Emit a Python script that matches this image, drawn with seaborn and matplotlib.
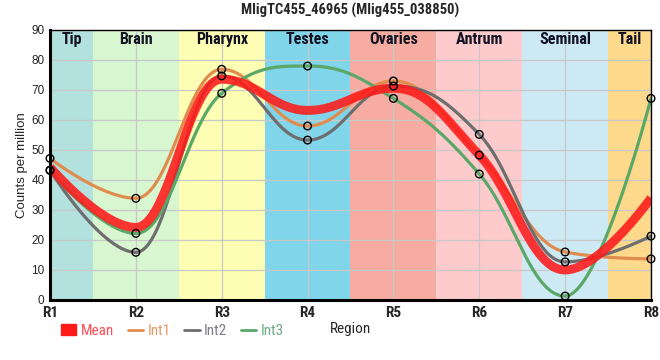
import numpy as np
import pandas as pd
import matplotlib
matplotlib.use("Agg")
import matplotlib.pyplot as plt
from matplotlib.patches import Patch
from matplotlib.lines import Line2D
import seaborn as sns

# ---- data ----
title = "MligTC455_46965 (Mlig455_038850)"
regions = ["R1", "R2", "R3", "R4", "R5", "R6", "R7", "R8"]
region_names = ["Tip", "Brain", "Pharynx", "Testes", "Ovaries", "Antrum", "Seminal", "Tail"]
region_colors = ["#b3e1de", "#d8f6cf", "#fdfdb4", "#80d5eb", "#f6aca0",
                 "#fdcbcc", "#cdeaf4", "#fdd98b"]

mean = [44.3, 24.2, 73.6, 63.2, 70.6, 48.3, 10.0, 34.0]
int1 = [47.2, 33.9, 76.9, 58.0, 73.0, 48.3, 16.0, 13.7]
int2 = [43.3, 15.9, 74.7, 53.3, 71.3, 55.2, 12.7, 21.3]
int3 = [43.2, 22.2, 68.9, 78.0, 67.2, 42.0, 1.3, 67.2]

series_names = ["Int1", "Int2", "Int3"]
series_colors = {"Mean": "#ff1a1a", "Int1": "#e08c4f", "Int2": "#6e6e6e", "Int3": "#5aa768"}
text_colors = {"Mean": "#ff4d55", "Int1": "#e69a66", "Int2": "#7a7a8a", "Int3": "#6aaa80"}

NARROW = ["Roboto Condensed", "Liberation Sans", "DejaVu Sans"]
REG = ["Liberation Sans", "DejaVu Sans"]


def spline_path(ys, n=50):
    """Smooth curve through the points, spline with clamped control points
    (no overshoot past neighbouring values)."""
    ys = np.asarray(ys, dtype=float)
    xs = np.arange(len(ys), dtype=float)
    k = len(ys)
    left, right = [None] * k, [None] * k
    for i in range(1, k - 1):
        x0, y0 = xs[i - 1], ys[i - 1]
        x, y = xs[i], ys[i]
        x1, y1 = xs[i + 1], ys[i + 1]
        lcx, lcy = (1.5 * x + x0) / 2.5, (1.5 * y + y0) / 2.5
        rcx, rcy = (1.5 * x + x1) / 2.5, (1.5 * y + y1) / 2.5
        corr = (rcy - lcy) * (rcx - x) / (rcx - lcx) + y - rcy
        lcy += corr
        rcy += corr
        if lcy > y0 and lcy > y:
            lcy = max(y0, y); rcy = 2 * y - lcy
        elif lcy < y0 and lcy < y:
            lcy = min(y0, y); rcy = 2 * y - lcy
        if rcy > y1 and rcy > y:
            rcy = max(y1, y); lcy = 2 * y - rcy
        elif rcy < y1 and rcy < y:
            rcy = min(y1, y); lcy = 2 * y - rcy
        left[i] = (lcx, lcy)
        right[i] = (rcx, rcy)
    t = np.linspace(0, 1, n)
    px, py = [], []
    for i in range(k - 1):
        p0 = (xs[i], ys[i])
        p3 = (xs[i + 1], ys[i + 1])
        p1 = right[i] if right[i] is not None else p0
        p2 = left[i + 1] if left[i + 1] is not None else p3
        b = [(1 - t) ** 3, 3 * (1 - t) ** 2 * t, 3 * (1 - t) * t ** 2, t ** 3]
        px.append(b[0] * p0[0] + b[1] * p1[0] + b[2] * p2[0] + b[3] * p3[0])
        py.append(b[0] * p0[1] + b[1] * p1[1] + b[2] * p2[1] + b[3] * p3[1])
    return np.concatenate(px), np.concatenate(py)


sns.set_style("white")
plt.rcParams["font.family"] = REG

fig = plt.figure(figsize=(6.6, 3.6), dpi=100)
ax = fig.add_axes([50 / 660, 60 / 360, 601 / 660, 270 / 360])

# region bands, each centred on its sample
for i, (name, col) in enumerate(zip(region_names, region_colors)):
    lo, hi = max(i - 0.5, 0), min(i + 0.5, len(regions) - 1)
    ax.axvspan(lo, hi, color=col, lw=0, zorder=0)
    ax.text((lo + hi) / 2, 86.8, name, ha="center", va="center",
            fontsize=11.5, fontweight="bold", family=NARROW, color="#111122", zorder=6)

# smooth lines
values = {"Int1": int1, "Int2": int2, "Int3": int3}
for name in series_names:
    sx, sy = spline_path(values[name])
    sns.lineplot(x=sx, y=sy, ax=ax, color=series_colors[name], lw=2.3,
                 sort=False, estimator=None, zorder=3)
mx, my = spline_path(mean)
sns.lineplot(x=mx, y=my, ax=ax, color=series_colors["Mean"], lw=6.4, alpha=0.88,
             sort=False, estimator=None, zorder=4, solid_capstyle="butt")

# data point markers
pts = pd.DataFrame({"x": np.tile(np.arange(len(regions)), 3),
                    "y": int1 + int2 + int3})
sns.scatterplot(data=pts, x="x", y="y", ax=ax, s=30, facecolor="none",
                edgecolor="black", linewidth=1.0, zorder=5, clip_on=False)

ax.set_xlim(0, len(regions) - 1)
ax.set_ylim(0, 90)
ax.set_xticks(range(len(regions)))
ax.set_xticklabels(regions, fontweight="bold", family=NARROW, fontsize=11)
ax.set_yticks(range(0, 91, 10))
ax.tick_params(axis="y", labelsize=8.5, length=3, width=1, pad=1)
ax.tick_params(axis="x", length=4, width=1, pad=0.5)
ax.grid(True, color="#c8c8c8", lw=0.9, zorder=1)
ax.set_axisbelow(True)
for side in ["left", "bottom"]:
    ax.spines[side].set_linewidth(2.2)
for side in ["top", "right"]:
    ax.spines[side].set_linewidth(1.0)
for sp in ax.spines.values():
    sp.set_color("black")
    sp.set_zorder(7)

ax.set_ylabel("Counts per million", fontsize=9.5, labelpad=2)
ax.set_xlabel("Region", fontsize=11, family=NARROW, labelpad=1)
ax.set_title(title, fontsize=10.5, fontweight="bold", family=NARROW, pad=11)

handles = [Patch(color=series_colors["Mean"], label="Mean")]
handles += [Line2D([0], [0], color=series_colors[n], lw=2.0, label=n) for n in series_names]
leg = fig.legend(handles=handles, loc="center left", bbox_to_anchor=(50 / 660, 1 - 331 / 360),
                 ncol=4, frameon=False, handlelength=1.0, handletextpad=0.3,
                 columnspacing=0.9, borderpad=0.2, prop={"family": NARROW, "size": 11})
for txt, n in zip(leg.get_texts(), ["Mean"] + series_names):
    txt.set_color(text_colors[n])

fig.savefig("out.png", dpi=100)
